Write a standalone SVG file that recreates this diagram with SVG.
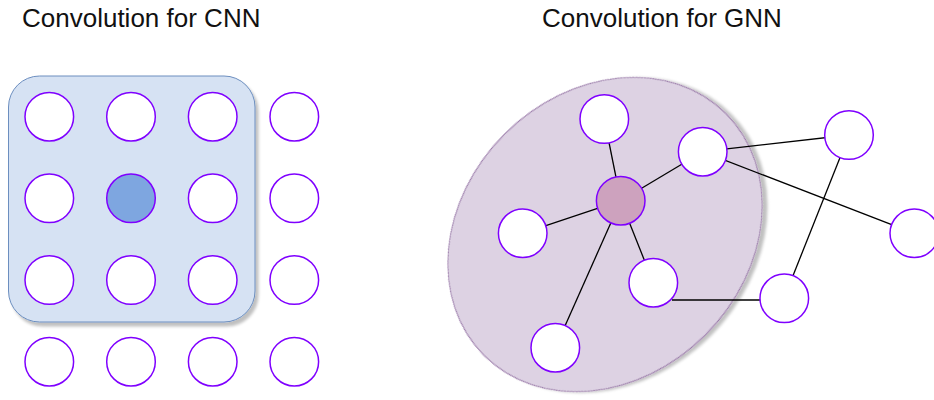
<svg xmlns="http://www.w3.org/2000/svg" width="934" height="400" viewBox="0 0 934 400">
  <defs>
    <filter id="shadow" x="-10%" y="-10%" width="130%" height="130%">
      <feGaussianBlur in="SourceAlpha" stdDeviation="1.5"/>
      <feOffset dx="3" dy="4" result="off"/>
      <feComponentTransfer><feFuncA type="linear" slope="0.25"/></feComponentTransfer>
      <feMerge><feMergeNode/><feMergeNode in="SourceGraphic"/></feMerge>
    </filter>
  </defs>
  <style>
    .title { font-family: "Liberation Sans", Arial, Helvetica, sans-serif; font-size: 26px; fill: #111; }
    .node { fill: #ffffff; stroke: #7f00ff; stroke-width: 1.5; }
    .cnn-center { fill: #7ea6e0; }
    .gnn-center { fill: #cda2be; }
    .window { fill: #d6e2f3; stroke: #6c8ebf; stroke-width: 1; }
    .hood { fill: #ddd2e3; stroke: #9673a6; stroke-width: 1; }
    .edge { stroke: #000; stroke-width: 1.3; fill: none; }
  </style>

  <rect width="934" height="400" fill="#ffffff"/>

  <text class="title" x="22" y="27">Convolution for CNN</text>
  <text class="title" x="542" y="27">Convolution for GNN</text>

  <!-- CNN: 3x3 kernel window over a 4x4 grid -->
  <rect id="cnn-window" class="window" x="8.5" y="76" width="246.5" height="246" rx="31" filter="url(#shadow)"/>
  <g id="cnn-grid">
    <g id="c00"><circle class="node" cx="49.3" cy="116.7" r="24.3"/></g>
    <g id="c01"><circle class="node" cx="131" cy="116.7" r="24.3"/></g>
    <g id="c02"><circle class="node" cx="212.7" cy="116.7" r="24.3"/></g>
    <g id="c03"><circle class="node" cx="294.3" cy="116.7" r="24.3"/></g>
    <g id="c10"><circle class="node" cx="49.3" cy="198.3" r="24.3"/></g>
    <g id="c11"><circle class="node cnn-center" cx="131" cy="198.3" r="24.3"/></g>
    <g id="c12"><circle class="node" cx="212.7" cy="198.3" r="24.3"/></g>
    <g id="c13"><circle class="node" cx="294.3" cy="198.3" r="24.3"/></g>
    <g id="c20"><circle class="node" cx="49.3" cy="280" r="24.3"/></g>
    <g id="c21"><circle class="node" cx="131" cy="280" r="24.3"/></g>
    <g id="c22"><circle class="node" cx="212.7" cy="280" r="24.3"/></g>
    <g id="c23"><circle class="node" cx="294.3" cy="280" r="24.3"/></g>
    <g id="c30"><circle class="node" cx="49.3" cy="361.7" r="24.3"/></g>
    <g id="c31"><circle class="node" cx="131" cy="361.7" r="24.3"/></g>
    <g id="c32"><circle class="node" cx="212.7" cy="361.7" r="24.3"/></g>
    <g id="c33"><circle class="node" cx="294.3" cy="361.7" r="24.3"/></g>
  </g>

  <!-- GNN: neighbourhood of the centre node -->
  <ellipse id="gnn-hood" class="hood" cx="605" cy="234.5" rx="171" ry="142" transform="rotate(-45 605 234.5)" filter="url(#shadow)"/>

  <g id="gnn-edges">
    <line class="edge" x1="620.7" y1="200.7" x2="604.3" y2="119"/>
    <line class="edge" x1="620.7" y1="200.7" x2="702.7" y2="151.7"/>
    <line class="edge" x1="620.7" y1="200.7" x2="522.7" y2="233.3"/>
    <line class="edge" x1="620.7" y1="200.7" x2="653.3" y2="282.7"/>
    <line class="edge" x1="620.7" y1="200.7" x2="555.3" y2="347.7"/>
    <line class="edge" x1="702.7" y1="151.7" x2="849" y2="135"/>
    <line class="edge" x1="702.7" y1="151.7" x2="914.3" y2="233.3"/>
    <line class="edge" x1="849" y1="135" x2="784" y2="298.3"/>
    <line class="edge" x1="672" y1="300" x2="760" y2="300"/>
  </g>

  <g id="gnn-nodes">
    <g id="g-center"><circle class="node gnn-center" cx="620.7" cy="200.7" r="24.3"/></g>
    <g id="g-top"><circle class="node" cx="604.3" cy="119" r="24.3"/></g>
    <g id="g-upper"><circle class="node" cx="702.7" cy="151.7" r="24.3"/></g>
    <g id="g-left"><circle class="node" cx="522.7" cy="233.3" r="24.3"/></g>
    <g id="g-mid"><circle class="node" cx="653.3" cy="282.7" r="24.3"/></g>
    <g id="g-bottom"><circle class="node" cx="555.3" cy="347.7" r="24.3"/></g>
    <g id="g-topright"><circle class="node" cx="849" cy="135" r="24.3"/></g>
    <g id="g-far"><circle class="node" cx="914.3" cy="233.3" r="24.3"/></g>
    <g id="g-lowright"><circle class="node" cx="784.3" cy="298.3" r="24.3"/></g>
  </g>
</svg>
